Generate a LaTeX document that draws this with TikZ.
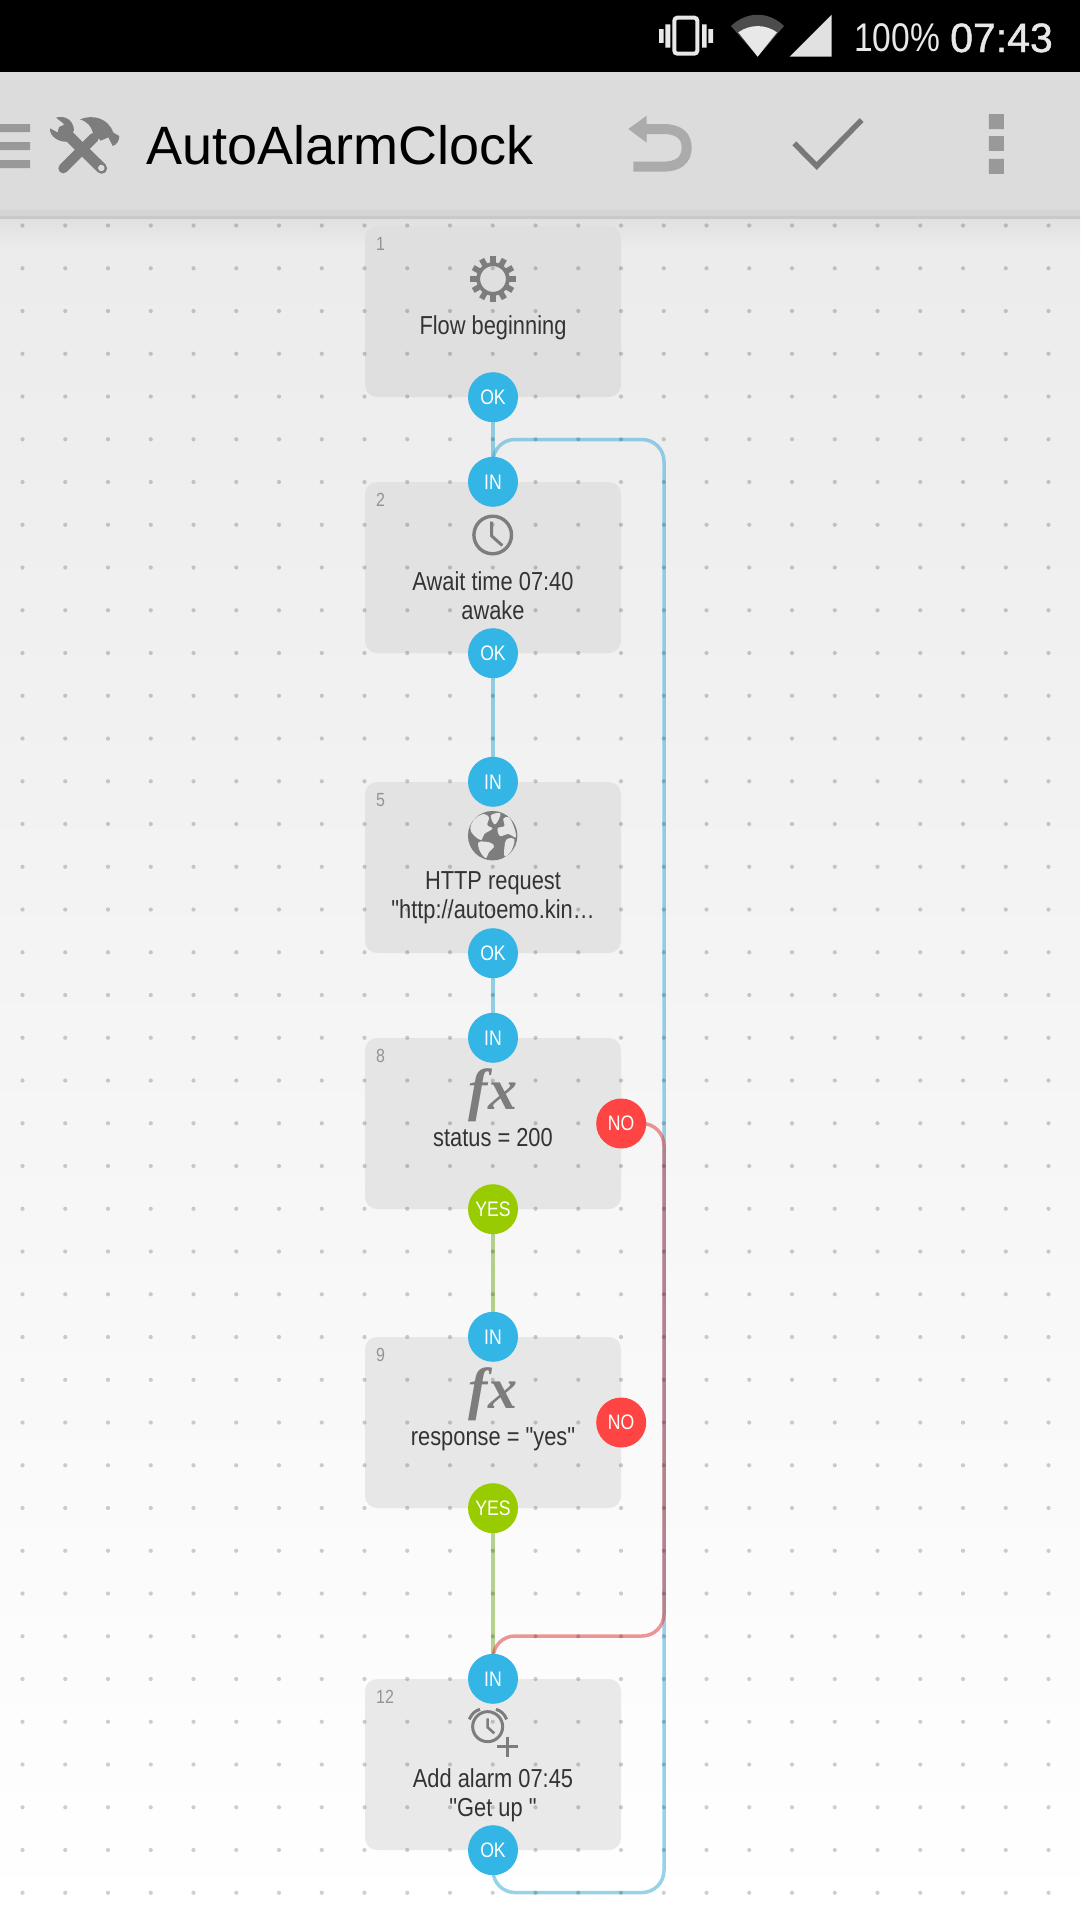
\documentclass[tikz,border=0pt]{standalone}
\usepackage{graphicx}
\usepackage{fontspec}
\setmainfont{Liberation Sans}
\newfontfamily\condfont[FakeStretch=0.84]{Liberation Sans}
\newfontfamily\medfont[FakeBold=1.1]{Liberation Sans}
\newfontfamily\fxfont{Liberation Serif}
\definecolor{holoblue}{HTML}{33B5E5}
\definecolor{hologreen}{HTML}{99CC00}
\definecolor{holored}{HTML}{FF4444}
\definecolor{iconcol}{HTML}{7D7D7D}
\definecolor{textcol}{HTML}{333333}
\definecolor{barcol}{HTML}{DCDCDC}
\definecolor{stat}{HTML}{E8E8E8}
\definecolor{landcol}{HTML}{E6E6E6}
\pgfdeclarelayer{backdrop}
\pgfdeclarelayer{boxes}
\pgfdeclarelayer{links}
\pgfdeclarelayer{dots}
\pgfsetlayers{backdrop,boxes,links,dots,main}
\tikzset{
  flowbox/.style={rectangle,rounded corners=12pt,minimum width=256pt,minimum height=171pt,inner sep=0pt,fill=#1},
  port/.style={circle,minimum size=50pt,inner sep=0pt,fill=#1,text=white,font=\condfont\fontsize{21}{22}\selectfont},
  linkb/.style={draw={rgb,255:red,47;green,168;blue,213},line width=3.5pt,opacity=.5,rounded corners=22pt},
  linkr/.style={draw={rgb,255:red,224;green,48;blue,48},line width=3.5pt,opacity=.5,rounded corners=22pt},
  linkg/.style={draw={rgb,255:red,111;green,170;blue,32},line width=3.5pt,opacity=.5},
  griddot/.style={fill=black,opacity=.19},
  boxlabel/.style={anchor=base,text=textcol,inner sep=0pt,font=\condfont\fontsize{26}{30}\selectfont},
  numlabel/.style={anchor=base west,text=black!42,inner sep=0pt,font=\condfont\fontsize{19}{20}\selectfont},
  statustxt/.style={anchor=base west,text=stat,inner sep=0pt},
  iconstroke/.style={draw=iconcol,line width=3.4pt},
  fxicon/.style={text=iconcol,inner sep=0pt,font=\fxfont\bfseries\itshape\fontsize{58}{58}\selectfont}
}
\newcommand{\gearicon}[2]{%
  \begin{scope}[shift={(#1,#2)}]
    \foreach \a in {0,30,...,330}
      \fill[iconcol,rotate=\a] (-2.8,-22.8) rectangle (2.8,-13.5);
    \draw[iconcol,line width=3.8pt] (0,0) circle[radius=14.8pt];
  \end{scope}}
\begin{document}
\begin{tikzpicture}[x=1pt,y=-1pt]
\path[use as bounding box] (0,0) rectangle (1080,1920);
\begin{pgfonlayer}{backdrop}
\fill[white] (0,0) rectangle (1080,1920);
\shade[top color=black!12,bottom color=black!7.5] (0,219) rectangle (1080,250);
\shade[top color=black!7.5,bottom color=white] (0,250) rectangle (1080,1920);
\fill[black] (0,0) rectangle (1080,72);
\fill[barcol] (0,72) rectangle (1080,210);
\fill[black!17] (0,210) rectangle (1080,216);
\fill[black!21] (0,216) rectangle (1080,219);
\end{pgfonlayer}
% boxes
\begin{pgfonlayer}{boxes}
\node[flowbox=black!12.5] (box1) at (493,311.5) {};
\node[flowbox=black!11.5] (box2) at (493,567.5) {};
\node[flowbox=black!11]   (box5) at (493,867.5) {};
\node[flowbox=black!10]   (box8) at (493,1123.5) {};
\node[flowbox=black!9.5]  (box9) at (493,1422.5) {};
\node[flowbox=black!8.5]  (box12) at (493,1764.5) {};
\end{pgfonlayer}
% ports
\node[port=holoblue] (ok1) at (box1.south) {OK};
\node[port=holoblue] (in2) at (box2.north) {IN};
\node[port=holoblue] (ok2) at (box2.south) {OK};
\node[port=holoblue] (in5) at (box5.north) {IN};
\node[port=holoblue] (ok5) at (box5.south) {OK};
\node[port=holoblue] (in8) at (box8.north) {IN};
\node[port=holored] (no8) at (box8.east) {NO};
\node[port=hologreen] (yes8) at (box8.south) {YES};
\node[port=holoblue] (in9) at (box9.north) {IN};
\node[port=holored] (no9) at (box9.east) {NO};
\node[port=hologreen] (yes9) at (box9.south) {YES};
\node[port=holoblue] (in12) at (box12.north) {IN};
\node[port=holoblue] (ok12) at (box12.south) {OK};
% connectors
\begin{pgfonlayer}{links}
\coordinate (rt) at (664,439.5);
\coordinate (rb) at (664,1892.5);
\coordinate (rn) at (664,1636);
\draw[linkb] (ok1.center) -- (in2.center);
\draw[linkb] (ok2.center) -- (in5.center);
\draw[linkb] (ok5.center) -- (in8.center);
\draw[linkg] (yes8.center) -- (in9.center);
\draw[linkg] (yes9.center) -- (in12.center);
\draw[linkb] (ok12.center) |- (rb) -- (rt) -| (in2.center);
\draw[linkr] (no8.center) -| (rn) -| (in12.center);
\end{pgfonlayer}
% grid
\begin{pgfonlayer}{dots}
\foreach \i in {0,...,24}
  \foreach \j in {0,...,39}
    \fill[griddot] ({22.5+42.75*\i},{225.5+42.75*\j}) circle[radius=2.1pt];
\end{pgfonlayer}
% numbers
\node[numlabel] (n1) at (376,250) {1};
\node[numlabel] (n2) at (376,506) {2};
\node[numlabel] (n5) at (376,806) {5};
\node[numlabel] (n8) at (376,1062) {8};
\node[numlabel] (n9) at (376,1361) {9};
\node[numlabel] (n12) at (376,1703) {12};
% labels
\node[boxlabel] (t1) at (493,334) {Flow beginning};
\node[boxlabel] (t2a) at (493,590.5) {Await time 07:40};
\node[boxlabel] (t2b) at (493,619) {awake};
\node[boxlabel] (t5a) at (493,889.5) {HTTP request};
\node[boxlabel] (t5b) at (493,918.5) {"http://autoemo.kin…};
\node[boxlabel] (t8) at (493,1146) {status = 200};
\node[boxlabel] (t9) at (493,1445) {response = "yes"};
\node[boxlabel] (t12a) at (493,1787.5) {Add alarm 07:45};
\node[boxlabel] (t12b) at (493,1816.5) {"Get up "};
% icons
\gearicon{493}{279}
\draw[iconstroke] (492.7,535) circle[radius=18.8pt];
\draw[iconstroke,line width=3pt] (491.7,521.5) -- (491.7,536) -- (502.3,545.5);
% globe
\begin{scope}[shift={(455,800)},x=.3333pt,y=-.3333pt]
  \fill[iconcol] (113,107) circle[radius=24.7pt];
  \fill[landcol] plot[smooth cycle,tension=.6] coordinates {(58,58) (85,42) (102,52) (97,75) (112,86) (88,102) (78,120) (55,104) (46,85)};
  \fill[landcol] plot[smooth cycle,tension=.6] coordinates {(108,46) (136,40) (127,66) (117,72)};
  \fill[landcol] plot[smooth cycle,tension=.6] coordinates {(72,126) (106,128) (117,140) (102,156) (92,174) (74,152)};
  \fill[landcol] plot[smooth cycle,tension=.6] coordinates {(145,56) (162,52) (178,84) (182,112) (160,102) (135,108) (128,85) (148,78)};
  \fill[landcol] plot[smooth cycle,tension=.6] coordinates {(155,118) (178,118) (170,150) (150,170) (148,145)};
\end{scope}
\node[fxicon] (fx8) at (493,1095) {fx};
\node[fxicon] (fx9) at (493,1394) {fx};
% alarm
\begin{scope}[shift={(340,1600)},x=.3333pt,y=-.3333pt]
  \draw[iconcol,line width=3pt] (443,380) circle[radius=15pt];
  \draw[iconcol,line width=2.6pt] (443,355) -- (443,382) -- (463,400);
  \draw[iconcol,line width=3pt] (388,358) .. controls (395,342) and (405,332) .. (420,328);
  \draw[iconcol,line width=3pt] (468,328) .. controls (483,332) and (493,342) .. (500,358);
  \draw[iconcol,line width=3pt] (472,440) -- (534,440) (503,410) -- (503,471);
\end{scope}
% status bar content
\begin{scope}[shift={(640,0)},x=.3333pt,y=-.3333pt]
  \fill[stat] (57,87) rectangle (71,129) (76,73) rectangle (91,143) (186,73) rectangle (200,143) (205,87) rectangle (219,129);
  \draw[stat,line width=4pt,rounded corners=3pt] (103,53) rectangle (172,161);
  \fill[black!70] (353,170) -- (273,78) .. controls (320,33) and (386,33) .. (432,78) -- cycle;
  \fill[stat] (353,170) -- (295,97) .. controls (330,72) and (376,72) .. (411,97) -- cycle;
  \fill[stat!97!black] (449,170) -- (575,170) -- (575,44) -- cycle;
\end{scope}
\node[statustxt,font=\condfont\fontsize{40}{44}\selectfont] (batt) at (854,51) {100\%};
\node[statustxt,font=\medfont\fontsize{41}{44}\selectfont] (clock) at (950,52) {07:43};
% toolbar content
\fill[black!40] (0,124) rectangle (30,132) (0,142) rectangle (30,150) (0,160) rectangle (30,168);
\begin{scope}[shift={(0,100)},x=.3333pt,y=-.3333pt]
  \draw[iconcol,line width=10pt,line cap=round] (190,205) -- (282,113);
  \fill[iconcol] (240,58) .. controls (280,42) and (325,55) .. (340,98) -- (358,108) .. controls (358,122) and (350,135) .. (338,138) -- (325,112) -- (302,122) -- (278,97) .. controls (275,80) and (262,65) .. (240,58) -- cycle;
  \draw[iconcol,line width=11pt,line cap=round] (190,92) -- (305,205);
  \fill[iconcol] (168,53) .. controls (195,45) and (220,60) .. (222,90) -- (205,125) .. controls (175,128) and (148,108) .. (150,85) -- (172,97) .. controls (188,97) and (197,82) .. (190,70) -- cycle;
  \fill[barcol] (304,204) circle[radius=3.2pt];
\end{scope}
\node[anchor=base west,inner sep=0pt,text=black,font=\fontsize{54}{56}\selectfont] (title) at (146,164) {AutoAlarmClock};
\begin{scope}[shift={(610,100)},x=.3333pt,y=-.3333pt]
  \fill[black!33] (55,87) -- (110,47) -- (110,128) -- cycle;
  \draw[black!33,line width=10pt] (105,87) -- (160,87) .. controls (210,87) and (230,110) .. (230,143) .. controls (230,180) and (205,200) .. (160,200) -- (70,200);
  \draw[black!53,line width=5.5pt] (553,130) -- (620,198) -- (755,60);
  \fill[black!40] (1137,42) rectangle (1182,87) (1137,108) rectangle (1182,153) (1137,177) rectangle (1182,222);
\end{scope}
\end{tikzpicture}
\end{document}
